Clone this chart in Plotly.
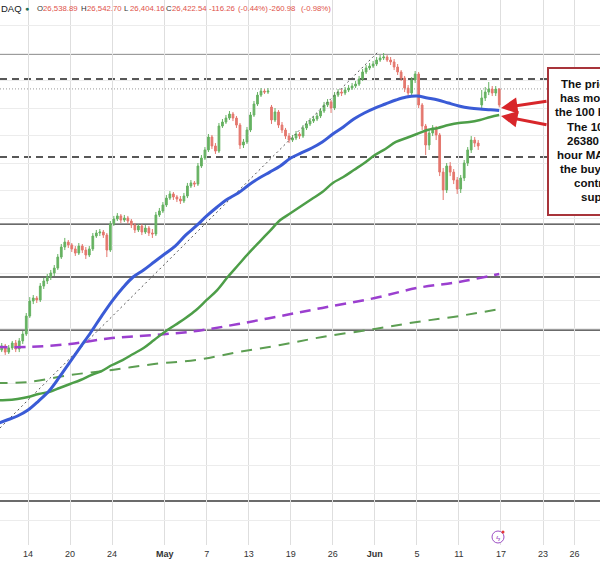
import plotly.graph_objects as go

# ---------------- data ----------------
TRADING_DAYS = ["2026-04-09", "2026-04-10", "2026-04-13", "2026-04-14", "2026-04-15", "2026-04-16",
                "2026-04-17", "2026-04-20", "2026-04-21", "2026-04-22", "2026-04-23", "2026-04-24",
                "2026-04-27", "2026-04-28", "2026-04-29", "2026-04-30", "2026-05-01", "2026-05-04",
                "2026-05-05", "2026-05-06", "2026-05-07", "2026-05-08", "2026-05-11", "2026-05-12",
                "2026-05-13", "2026-05-14", "2026-05-15", "2026-05-18", "2026-05-19", "2026-05-20",
                "2026-05-21", "2026-05-22", "2026-05-26", "2026-05-27", "2026-05-28", "2026-05-29",
                "2026-06-01", "2026-06-02", "2026-06-03", "2026-06-04", "2026-06-05", "2026-06-08",
                "2026-06-09", "2026-06-10", "2026-06-11", "2026-06-12", "2026-06-15", "2026-06-16"]
SESSION_HOURS = ["04:00", "12:00", "20:00"]

OPEN = [24655, 24640, 24669, 24625, 24655, 24691, 24647, 24706, 24756, 24887, 24996, 25018,
        25004, 25105, 25142, 25171, 25200, 25236, 25316, 25389, 25425, 25404, 25375, 25345,
        25396, 25367, 25331, 25375, 25469, 25491, 25498, 25476, 25367, 25556, 25593, 25615,
        25585, 25600, 25578, 25549, 25513, 25542, 25498, 25527, 25491, 25484, 25622, 25651,
        25695, 25745, 25775, 25753, 25738, 25724, 25760, 25833, 25855, 25847, 25978, 26036,
        26095, 26189, 26124, 26087, 26269, 26298, 26327, 26356, 26327, 26276, 26131, 26153,
        26240, 26349, 26429, 26494, 26523, 26516, 26407, 26313, 26371, 26276, 26240, 26196,
        26167, 26182, 26211, 26196, 26255, 26284, 26305, 26320, 26342, 26378, 26422, 26444,
        26400, 26494, 26516, 26509, 26531, 26545, 26560, 26574, 26611, 26662, 26691, 26705,
        26720, 26749, 26764, 26771, 26749, 26735, 26698, 26662, 26618, 26545, 26509, 26604,
        26647, 26422, 26269, 26131, 26218, 26255, 26204, 25934, 25804, 25978, 25934, 25876,
        25811, 25891, 26000, 26095, 26167, 26145, 26422, 26473, 26516, 26538, 26509, 26538.89]
HIGH = [24676, 24691, 24684, 24676, 24706, 24713, 24727, 24778, 24909, 25025, 25040, 25033,
        25127, 25164, 25193, 25222, 25258, 25338, 25411, 25455, 25440, 25418, 25396, 25418,
        25411, 25389, 25396, 25491, 25513, 25520, 25513, 25491, 25578, 25615, 25636, 25629,
        25622, 25615, 25593, 25564, 25556, 25556, 25549, 25542, 25520, 25644, 25673, 25716,
        25767, 25796, 25789, 25767, 25760, 25782, 25855, 25876, 25869, 26000, 26058, 26116,
        26211, 26204, 26145, 26291, 26320, 26349, 26378, 26371, 26342, 26291, 26175, 26262,
        26371, 26451, 26516, 26545, 26538, 26545, 26422, 26400, 26385, 26298, 26255, 26218,
        26204, 26233, 26225, 26276, 26305, 26327, 26342, 26364, 26400, 26444, 26465, 26458,
        26516, 26538, 26538, 26553, 26567, 26582, 26596, 26633, 26684, 26713, 26727, 26742,
        26771, 26785, 26800, 26785, 26771, 26756, 26720, 26676, 26633, 26567, 26625, 26669,
        26662, 26436, 26284, 26240, 26276, 26269, 26218, 25964, 26000, 26007, 25956, 25898,
        25913, 26022, 26116, 26196, 26189, 26167, 26531, 26553, 26589, 26560, 26560, 26542.70]
LOW = [24618, 24625, 24604, 24611, 24640, 24625, 24625, 24684, 24742, 24873, 24974, 24982,
       24989, 25084, 25120, 25149, 25178, 25222, 25302, 25367, 25382, 25353, 25324, 25331,
       25345, 25302, 25316, 25360, 25455, 25469, 25455, 25316, 25353, 25542, 25578, 25564,
       25571, 25556, 25527, 25491, 25498, 25476, 25484, 25469, 25455, 25469, 25607, 25636,
       25680, 25731, 25731, 25716, 25702, 25709, 25745, 25818, 25825, 25833, 25964, 26022,
       26080, 26102, 26066, 26073, 26255, 26284, 26313, 26305, 26255, 26102, 26109, 26138,
       26225, 26335, 26415, 26480, 26502, 26502, 26284, 26298, 26255, 26218, 26175, 26145,
       26153, 26167, 26175, 26182, 26240, 26269, 26291, 26305, 26327, 26364, 26407, 26364,
       26385, 26480, 26487, 26494, 26516, 26531, 26545, 26560, 26596, 26647, 26676, 26691,
       26705, 26735, 26749, 26735, 26713, 26676, 26640, 26596, 26516, 26480, 26494, 26582,
       26400, 26240, 26058, 26095, 26196, 26167, 25905, 25731, 25782, 25905, 25847, 25775,
       25782, 25869, 25978, 26073, 26116, 26095, 26400, 26451, 26494, 26487, 26487, 26404.16]
CLOSE = [24640, 24669, 24625, 24655, 24691, 24647, 24706, 24756, 24887, 24996, 25018, 25004,
         25105, 25142, 25171, 25200, 25236, 25316, 25389, 25425, 25404, 25375, 25345, 25396,
         25367, 25331, 25375, 25469, 25491, 25498, 25476, 25367, 25556, 25593, 25615, 25585,
         25600, 25578, 25549, 25513, 25542, 25498, 25527, 25491, 25484, 25622, 25651, 25695,
         25745, 25775, 25753, 25738, 25724, 25760, 25833, 25855, 25847, 25978, 26036, 26095,
         26189, 26124, 26087, 26269, 26298, 26327, 26356, 26327, 26276, 26131, 26153, 26240,
         26349, 26429, 26494, 26523, 26516, 26523, 26313, 26371, 26276, 26240, 26196, 26167,
         26182, 26211, 26196, 26255, 26284, 26305, 26320, 26342, 26378, 26422, 26444, 26400,
         26494, 26516, 26509, 26531, 26545, 26560, 26574, 26611, 26662, 26691, 26705, 26720,
         26749, 26764, 26771, 26749, 26735, 26698, 26662, 26618, 26545, 26509, 26604, 26647,
         26422, 26269, 26131, 26218, 26255, 26204, 25934, 25804, 25978, 25934, 25876, 25811,
         25891, 26000, 26095, 26167, 26145, 26124, 26473, 26516, 26538, 26509, 26538, 26422.54]

MA_DATES = [d + " 00:00" for d in TRADING_DAYS] + ["2026-06-16 20:00"]
MA_100H = [24102, 24131, 24160, 24204, 24269, 24342, 24444, 24553, 24662, 24771, 24887, 24996,
           25091, 25171, 25222, 25280, 25338, 25396, 25476, 25542, 25615, 25680, 25738, 25782,
           25840, 25891, 25934, 25978, 26036, 26073, 26109, 26153, 26211, 26262, 26320, 26364,
           26400, 26429, 26458, 26480, 26487, 26473, 26458, 26436, 26415, 26400, 26392, 26388,
           26382]
MA_200H = [24276, 24276, 24284, 24298, 24320, 24335, 24364, 24393, 24422, 24458, 24487, 24531,
           24567, 24611, 24655, 24713, 24771, 24822, 24873, 24931, 25004, 25076, 25171, 25258,
           25345, 25425, 25505, 25585, 25636, 25687, 25738, 25789, 25855, 25898, 25949, 26000,
           26058, 26102, 26153, 26182, 26211, 26240, 26255, 26276, 26291, 26298, 26313, 26335,
           26349]

SLOW_DATES = ["2026-04-09", "2026-04-14", "2026-04-20", "2026-04-24", "2026-04-30", "2026-05-06",
              "2026-05-12", "2026-05-18", "2026-05-22", "2026-06-01", "2026-06-05", "2026-06-11",
              "2026-06-16 20:00"]
MA_100D = [24662, 24662, 24684, 24727, 24749, 24778, 24829, 24887, 24946, 25018, 25091, 25135, 25193]
MA_200D = [24400, 24407, 24458, 24495, 24538, 24567, 24625, 24676, 24735, 24793, 24844, 24887, 24938]

TREND_DATES = ["2026-04-09 08:00", "2026-06-01 07:00"]
TREND_PRICES = [24073, 26807]

SOLID_LEVELS = [26793, 25556, 25171, 24785, 23542]
DASHED_LEVELS = [26611, 26044]
DOTTED_LEVELS = [26538.89]

TICK_DATES = ["2026-04-14", "2026-04-20", "2026-04-24", "2026-05-01", "2026-05-07", "2026-05-13",
              "2026-05-19", "2026-05-26", "2026-06-01", "2026-06-05", "2026-06-11", "2026-06-17",
              "2026-06-23", "2026-06-26"]
TICK_TEXT = ["14", "20", "24", "<b>May</b>", "7", "13", "19", "26", "<b>Jun</b>", "5", "11", "17", "23", "26"]

HEADER_PARTS = [("DAQ", "#131722"), ("O", "#333333"), ("26,538.89", "#e0524a"),
                ("H", "#333333"), ("26,542.70", "#e0524a"), ("L", "#333333"), ("26,404.16", "#e0524a"),
                ("C", "#333333"), ("26,422.54", "#e0524a"), ("-116.26", "#e0524a"),
                ("(-0.44%)", "#e0524a"), ("-260.98", "#e0524a"), ("(-0.98%)", "#e0524a")]

NOTE_LINES = ["The price", "has moved to", "the 100 hour MA.", "The 100 hour MA at",
              "26380 and 200", "hour MA keeps", "the buyers in", "control. Stay", "supportive."]

# ---------------- layout helpers (page pixels -> paper) ----------------
W, H = 600, 561
MT, MB = 0, 16
PH = H - MT - MB


def px(x):
    return x / W


def py(y):
    return (PH - (y - MT)) / PH


candle_times = [d + " " + h for d in TRADING_DAYS for h in SESSION_HOURS]
assert len(candle_times) == len(OPEN) == len(HIGH) == len(LOW) == len(CLOSE)

fig = go.Figure()

fig.add_trace(go.Candlestick(
    x=candle_times, open=OPEN, high=HIGH, low=LOW, close=CLOSE,
    increasing=dict(line=dict(color="#66b262", width=1), fillcolor="#66b262"),
    decreasing=dict(line=dict(color="#e4776e", width=1), fillcolor="#e4776e"),
    whiskerwidth=0, showlegend=False, hoverinfo="skip"))

fig.add_trace(go.Scatter(x=SLOW_DATES, y=MA_200D, mode="lines", line_shape="spline",
                         line=dict(color="#5c9e52", width=2, dash="11px,8px"),
                         showlegend=False, hoverinfo="skip"))
fig.add_trace(go.Scatter(x=SLOW_DATES, y=MA_100D, mode="lines", line_shape="spline",
                         line=dict(color="#9b3fcf", width=2.5, dash="11px,7px"),
                         showlegend=False, hoverinfo="skip"))
fig.add_trace(go.Scatter(x=TREND_DATES, y=TREND_PRICES, mode="lines",
                         line=dict(color="#555555", width=1, dash="2px,3px"),
                         showlegend=False, hoverinfo="skip"))
fig.add_trace(go.Scatter(x=MA_DATES, y=MA_200H, mode="lines", line_shape="spline",
                         line=dict(color="#4d9e48", width=2.5), showlegend=False, hoverinfo="skip"))
fig.add_trace(go.Scatter(x=MA_DATES, y=MA_100H, mode="lines", line_shape="spline",
                         line=dict(color="#3a5bd6", width=3), showlegend=False, hoverinfo="skip"))

shapes = []
for lv in SOLID_LEVELS:
    shapes.append(dict(type="line", xref="paper", x0=0, x1=1, yref="y", y0=lv, y1=lv,
                       line=dict(color="#3a3a3a", width=1.3), layer="between"))
for lv in DASHED_LEVELS:
    shapes.append(dict(type="line", xref="paper", x0=0, x1=1, yref="y", y0=lv, y1=lv,
                       line=dict(color="#222222", width=1.6, dash="7px,5px"), layer="between"))
for lv in DOTTED_LEVELS:
    shapes.append(dict(type="line", xref="paper", x0=0, x1=1, yref="y", y0=lv, y1=lv,
                       line=dict(color="#9a9a9a", width=1, dash="1px,2px"), layer="between"))

# annotation box
shapes.append(dict(type="rect", xref="paper", yref="paper", x0=px(548), x1=px(640),
                   y0=py(215), y1=py(68), fillcolor="white",
                   line=dict(color="#a8343a", width=2), layer="above"))
# event icon
shapes.append(dict(type="circle", xref="paper", yref="paper", x0=px(492), x1=px(504),
                   y0=py(543), y1=py(531), line=dict(color="#9c4fc4", width=1), fillcolor="white"))
shapes.append(dict(type="circle", xref="paper", yref="paper", x0=px(501.5), x1=px(504.5),
                   y0=py(533.5), y1=py(530.5), line=dict(width=0), fillcolor="#e53935"))

annotations = []
# header
hx = [0, 36, 42, 80, 86, 123, 129, 165, 171, 208, 237, 268, 300]
for (txt, col), x0 in zip(HEADER_PARTS, hx):
    annotations.append(dict(xref="paper", yref="paper", x=px(x0), y=py(9), text=txt,
                            showarrow=False, xanchor="left", yanchor="middle", borderpad=0,
                            font=dict(family="Liberation Sans, Arial",
                                      size=9.5 if txt == "DAQ" else 7.8, color=col)))
annotations.append(dict(xref="paper", yref="paper", x=px(27.5), y=py(9), text="\u25cf",
                        showarrow=False, xanchor="center", yanchor="middle", borderpad=0,
                        font=dict(size=7, color="#1d6f57")))
# note text
line_x = [559, 558, 553, 565, 565, 555, 558, 572, 579]
line_y = [84, 98, 112, 127, 141, 155, 169, 183, 197]
for t, lx, ly in zip(NOTE_LINES, line_x, line_y):
    annotations.append(dict(xref="paper", yref="paper", x=px(lx), y=py(ly), text="<b>" + t + "</b>",
                            showarrow=False, xanchor="left", yanchor="middle",
                            font=dict(family="Liberation Sans, Arial", size=11.5, color="#111111")))
# arrows
for hx_, hy_, tx_, ty_ in [(501, 108, 548, 101), (501, 116, 548, 125)]:
    annotations.append(dict(xref="paper", yref="paper", x=px(hx_), y=py(hy_), text="",
                            showarrow=True, ax=tx_ - hx_, ay=ty_ - hy_, arrowhead=2,
                            arrowsize=1.1, arrowwidth=3, arrowcolor="#d8262a"))
annotations.append(dict(xref="paper", yref="paper", x=px(498), y=py(537), text="\u03df",
                        showarrow=False, xanchor="center", yanchor="middle",
                        font=dict(size=8, color="#9c4fc4")))

fig.update_layout(
    width=W, height=H, margin=dict(l=0, r=0, t=MT, b=MB, pad=0),
    paper_bgcolor="white", plot_bgcolor="white",
    shapes=shapes, annotations=annotations, showlegend=False,
    xaxis=dict(type="date", range=["2026-04-09 08:04", "2026-06-30 10:05"],
               rangebreaks=[dict(pattern="day of week", bounds=[6, 1]), dict(values=["2026-05-25"])],
               tickmode="array", tickvals=TICK_DATES, ticktext=TICK_TEXT,
               showgrid=True, gridcolor="#dedede", gridwidth=1, zeroline=False, showline=False,
               ticks="", tickfont=dict(family="Liberation Sans, Arial", size=9, color="#333333"),
               ticklabelstandoff=2,
               rangeslider=dict(visible=False), automargin=False, fixedrange=True),
    yaxis=dict(range=[23221.9, 27185.5], showticklabels=False, tick0=0, dtick=200,
               showgrid=True, gridcolor="#ececec", gridwidth=1, zeroline=False, showline=False,
               ticks="", automargin=False, fixedrange=True),
)

fig.write_html("out.html", config={"displayModeBar": False})
